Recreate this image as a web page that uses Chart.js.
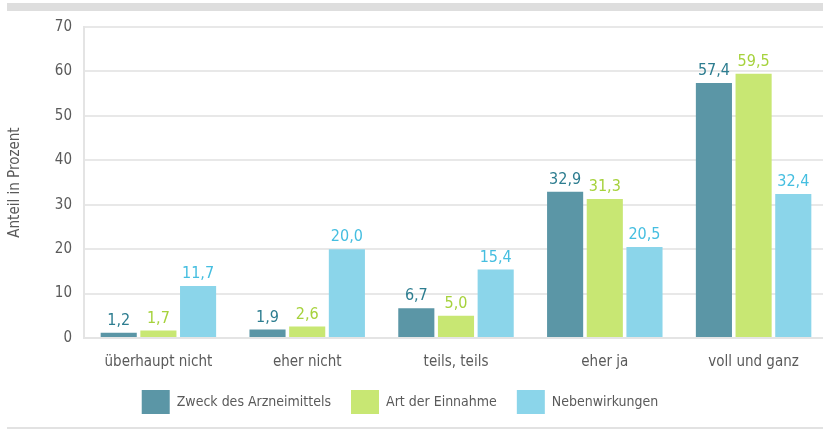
<!DOCTYPE html>
<html>
<head>
<meta charset="utf-8">
<script src="https://cdn.jsdelivr.net/npm/chart.js@4/dist/chart.umd.min.js"></script>
<style>
  html, body { margin: 0; padding: 0; background: #fff; overflow: hidden; }
  body { width: 823px; height: 430px; position: relative; }
  #wrap { position: absolute; left: 0; top: 0; width: 828px; height: 430px; }
  .band { position: absolute; left: 7px; right: 0; top: 3px; height: 8px; background: #dedede; }
  .bottomline { position: absolute; left: 7px; right: 0; top: 427px; height: 2px; background: #e2e2e2; }
</style>
</head>
<body>
<div class="band"></div>
<div id="wrap"><canvas id="myChart" width="828" height="430"></canvas></div>
<div class="bottomline"></div>
<script>
// Daten
const kategorien = ['überhaupt nicht', 'eher nicht', 'teils, teils', 'eher ja', 'voll und ganz'];
const zweck = [1.2, 1.9, 6.7, 32.9, 57.4];
const einnahme = [1.7, 2.6, 5.0, 31.3, 59.5];
const nebenwirkungen = [11.7, 20.0, 15.4, 20.5, 32.4];
const yTicks = [0, 10, 20, 30, 40, 50, 60, 70];

const schrift = "'Liberation Sans Narrow', 'DejaVu Sans Condensed', Lato, sans-serif";
const textFarbe = '#5a5a5a';

// Werte ueber den Balken
const wertLabels = {
    id: 'wertLabels',
    afterDatasetsDraw(chart) {
        const ctx = chart.ctx;
        ctx.save();
        ctx.font = '16px ' + schrift;
        ctx.textAlign = 'center';
        ctx.textBaseline = 'bottom';
        chart.data.datasets.forEach((ds, i) => {
            const meta = chart.getDatasetMeta(i);
            ctx.fillStyle = ds.labelColor;
            meta.data.forEach((bar, j) => {
                const txt = ds.data[j].toFixed(1).replace('.', ',');
                ctx.fillText(txt, bar.x, bar.y - 4);
            });
        });
        ctx.restore();
    }
};

// Legende etwas nach links und oben schieben
const legendeVerschieben = {
    id: 'legendeVerschieben',
    afterLayout(chart) {
        const lg = chart.legend;
        lg.left -= 14;
        lg.right -= 14;
        lg.top -= 4;
        lg.bottom -= 4;
    }
};

const ctx = document.getElementById('myChart').getContext('2d');
new Chart(ctx, {
    type: 'bar',
    data: {
        labels: kategorien,
        datasets: [{
            label: 'Zweck des Arzneimittels',
            data: zweck,
            backgroundColor: '#5b96a6',
            labelColor: '#2d7d90'
        }, {
            label: 'Art der Einnahme',
            data: einnahme,
            backgroundColor: '#c8e773',
            labelColor: '#a6d23c'
        }, {
            label: 'Nebenwirkungen',
            data: nebenwirkungen,
            backgroundColor: '#8bd5ea',
            labelColor: '#45bee0'
        }]
    },
    options: {
        responsive: false,
        animation: false,
        categoryPercentage: 0.8,
        barPercentage: 0.91,
        layout: { padding: { top: 27, left: 0, right: 0, bottom: 2 } },
        scales: {
            x: {
                afterFit: (scale) => { scale.height = 36; },
                grid: { display: false, drawTicks: false },
                border: { color: '#e4e4e4', width: 2 },
                ticks: { color: textFarbe, font: { family: schrift, size: 15 }, padding: 15 }
            },
            y: {
                min: 0,
                max: 70,
                afterBuildTicks: (scale) => { scale.ticks = yTicks.map(v => ({ value: v })); },
                afterFit: (scale) => { scale.width = 84; },
                grid: { color: '#e8e8e8', lineWidth: 2, drawTicks: false },
                border: { color: '#e4e4e4', width: 2 },
                ticks: { color: textFarbe, font: { family: schrift, size: 15 }, padding: 12 },
                title: {
                    display: true,
                    text: 'Anteil in Prozent',
                    color: textFarbe,
                    font: { family: schrift, size: 15 },
                    padding: { top: 6, bottom: 0 }
                }
            }
        },
        plugins: {
            legend: {
                position: 'bottom',
                labels: {
                    boxWidth: 28,
                    boxHeight: 24,
                    padding: 20,
                    color: textFarbe,
                    font: { family: schrift, size: 14 }
                }
            },
            tooltip: { enabled: false }
        }
    },
    plugins: [wertLabels, legendeVerschieben]
});
</script>
</body>
</html>
